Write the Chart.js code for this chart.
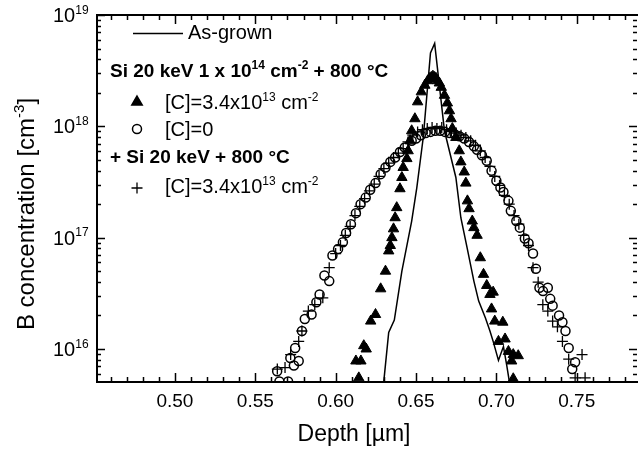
<!DOCTYPE html>
<html>
<head>
<meta charset="utf-8">
<script src="https://cdn.jsdelivr.net/npm/chart.js@4.4.1/dist/chart.umd.min.js"></script>
<style>
  html, body { margin: 0; padding: 0; background: #fff; }
  #wrap { width: 644px; height: 451px; }
</style>
</head>
<body>
<div id="wrap"><canvas id="profileChart"></canvas></div>
<script>
// depth in um, B concentration in cm^-3
const asGrownDepth = [0.6295, 0.6300, 0.6330, 0.6365, 0.6412, 0.6473, 0.6505, 0.6545, 0.6590, 0.6616,
  0.6677, 0.6748, 0.6779, 0.6818, 0.6860, 0.6890, 0.6932, 0.6960, 0.6980, 0.7013, 0.7044, 0.7064, 0.7090];
const asGrownConc = [4.2e15, 5.2e15, 1.41e16, 1.82e16, 5.0e16, 1.41e17, 2.82e17, 7.94e17, 4.57e18, 5.56e18,
  9.12e17, 3.47e17, 1.51e17, 8.1e16, 4.07e16, 2.69e16, 1.9e16, 1.45e16, 1.17e16, 7.9e15, 1.05e16, 7.2e15, 4.2e15];

const triDepth = [0.6126, 0.6144, 0.6157, 0.6175, 0.6190, 0.6218, 0.6248, 0.6280, 0.6310, 0.6330,
  0.6340, 0.6350, 0.6360, 0.6370, 0.6380, 0.6400, 0.6412, 0.6420, 0.6443, 0.6451,
  0.6463, 0.6473, 0.6493, 0.6510, 0.6533, 0.6555, 0.6573, 0.6585, 0.6595, 0.6605,
  0.6616, 0.6625, 0.6634, 0.6645, 0.6657, 0.6677, 0.6695, 0.6708, 0.6718, 0.6726,
  0.6748, 0.6769, 0.6779, 0.6800, 0.6810, 0.6820, 0.6830, 0.6850, 0.6860, 0.6880,
  0.6900, 0.6920, 0.6940, 0.6960, 0.6980, 0.6970, 0.6990, 0.7040, 0.7013, 0.7054,
  0.7075, 0.7105, 0.7136, 0.7095, 0.7105];
const triConc = [7.8e15, 5.5e15, 7.8e15, 1.07e16, 1.0e16, 1.78e16, 2.04e16, 3.47e16, 5.0e16, 7.6e16,
  8.5e16, 1.0e17, 1.2e17, 1.51e17, 1.86e17, 2.75e17, 3.47e17, 4.27e17, 5.13e17, 6.03e17,
  7.41e17, 9.12e17, 1.17e18, 1.66e18, 2.04e18, 2.34e18, 2.57e18, 2.69e18, 2.75e18, 2.82e18,
  2.75e18, 2.69e18, 2.57e18, 2.45e18, 2.24e18, 1.9e18, 1.62e18, 1.38e18, 1.17e18, 9.55e17,
  7.94e17, 6.03e17, 4.79e17, 3.89e17, 3.09e17, 2.14e17, 1.82e17, 1.41e17, 1.23e17, 1.05e17,
  6.6e16, 4.68e16, 3.72e16, 3.09e16, 3.24e16, 2.29e16, 1.78e16, 1.74e16, 1.17e16, 1.23e16,
  9.5e15, 8.9e15, 8.7e15, 7.8e15, 5.4e15];

const circDepth = [0.5636, 0.5650, 0.5704, 0.5718, 0.5740, 0.5748, 0.5770, 0.5790, 0.5808, 0.5850,
  0.5880, 0.5900, 0.5930, 0.5960, 0.5980, 0.6015, 0.6045, 0.6065, 0.6095, 0.6126,
  0.6155, 0.6187, 0.6215, 0.6248, 0.6280, 0.6310, 0.6340, 0.6370, 0.6400, 0.6430,
  0.6473, 0.6500, 0.6530, 0.6560, 0.6590, 0.6620, 0.6650, 0.6680, 0.6710, 0.6740,
  0.6770, 0.6800, 0.6830, 0.6860, 0.6880, 0.6910, 0.6940, 0.6970, 0.7000, 0.7025,
  0.7044, 0.7075, 0.7090, 0.7124, 0.7146, 0.7177, 0.7200, 0.7228, 0.7246, 0.7268,
  0.7290, 0.7320, 0.7335, 0.7350, 0.7390, 0.7411, 0.7430, 0.7450, 0.7472, 0.7490];
const circConc = [6.3e15, 5.1e15, 5.1e15, 8.3e15, 7.1e15, 1.02e16, 7.8e15, 1.45e16, 1.86e16, 2.04e16,
  2.63e16, 3.09e16, 4.57e16, 4.07e16, 6.9e16, 7.9e16, 9.1e16, 1.1e17, 1.32e17, 1.66e17,
  2.0e17, 2.29e17, 2.69e17, 3.09e17, 3.72e17, 4.27e17, 4.79e17, 5.25e17, 5.89e17, 6.46e17,
  7.41e17, 7.76e17, 8.32e17, 8.71e17, 8.91e17, 9.12e17, 9.12e17, 8.91e17, 8.71e17, 8.51e17,
  8.13e17, 7.76e17, 7.24e17, 6.61e17, 6.17e17, 5.5e17, 4.9e17, 3.98e17, 3.24e17, 2.82e17,
  2.57e17, 2.14e17, 1.74e17, 1.41e17, 1.23e17, 9.8e16, 8.9e16, 7.2e16, 5.25e16, 3.55e16,
  3.31e16, 3.55e16, 2.82e16, 2.45e16, 2.0e16, 1.74e16, 1.45e16, 1.02e16, 6.6e15, 7.6e15];

const plusDepth = [0.5637, 0.5685, 0.5720, 0.5770, 0.5790, 0.5830, 0.5870, 0.5920, 0.5960, 0.6000,
  0.6030, 0.6060, 0.6090, 0.6120, 0.6150, 0.6180, 0.6210, 0.6240, 0.6270, 0.6300,
  0.6330, 0.6360, 0.6390, 0.6420, 0.6450, 0.6480, 0.6510, 0.6540, 0.6570, 0.6600,
  0.6630, 0.6660, 0.6690, 0.6720, 0.6750, 0.6780, 0.6810, 0.6840, 0.6870, 0.6900,
  0.6930, 0.6960, 0.6990, 0.7020, 0.7050, 0.7080, 0.7110, 0.7140, 0.7170, 0.7200,
  0.7228, 0.7260, 0.7289, 0.7320, 0.7350, 0.7380, 0.7411, 0.7450, 0.7490, 0.7533, 0.7552];
const plusConc = [6.6e15, 6.8e15, 8.9e15, 1.17e16, 1.45e16, 2.19e16, 2.5e16, 2.88e16, 5.37e16, 7.2e16,
  8.5e16, 1.05e17, 1.26e17, 1.58e17, 1.91e17, 2.24e17, 2.63e17, 3.02e17, 3.55e17, 4.17e17,
  4.68e17, 5.25e17, 5.75e17, 6.31e17, 7.24e17, 8.32e17, 8.91e17, 9.33e17, 9.55e17, 9.77e17,
  9.55e17, 9.77e17, 9.33e17, 9.12e17, 8.71e17, 8.32e17, 7.94e17, 7.41e17, 6.76e17, 6.03e17,
  5.25e17, 4.37e17, 3.55e17, 2.95e17, 2.4e17, 2.0e17, 1.58e17, 1.32e17, 1.05e17, 8.5e16,
  5.37e16, 3.98e16, 2.5e16, 2.19e16, 1.78e16, 1.58e16, 1.17e16, 8.1e15, 5.5e15, 8.9e15, 5.5e15];

const xTickLabels = ['0.50', '0.55', '0.60', '0.65', '0.70', '0.75'];
const yTickExponents = [16, 17, 18, 19];

const FONT = '"Liberation Sans", Arial, Helvetica, sans-serif';

function pairs(xs, ys) {
    return xs.map((x, i) => ({ x: x, y: ys[i] }));
}

// text with superscript parts: parts = [[text, isSup], ...]
function richText(ctx, parts, x, y, size, bold) {
    let cx = x;
    parts.forEach(p => {
        const sup = p[1];
        ctx.font = (bold ? 'bold ' : '') + (sup ? Math.round(size * 0.62) : size) + 'px ' + FONT;
        ctx.fillText(p[0], cx, sup ? y - size * 0.42 : y);
        cx += ctx.measureText(p[0]).width;
    });
    return cx;
}

function richWidth(ctx, parts, size, bold) {
    let w = 0;
    parts.forEach(p => {
        ctx.font = (bold ? 'bold ' : '') + (p[1] ? Math.round(size * 0.62) : size) + 'px ' + FONT;
        w += ctx.measureText(p[0]).width;
    });
    return w;
}

const framePlugin = {
    id: 'frame',
    afterDraw(chart) {
        const ctx = chart.ctx;
        const a = chart.chartArea;
        const xs = chart.scales.x;
        const ys = chart.scales.y;
        ctx.save();
        ctx.fillStyle = '#000';
        ctx.strokeStyle = '#000';

        // frame (right edge lies just outside the picture)
        ctx.lineWidth = 2;
        ctx.beginPath();
        ctx.moveTo(a.right + 1, a.top);
        ctx.lineTo(a.left, a.top);
        ctx.lineTo(a.left, a.bottom);
        ctx.lineTo(a.right + 1, a.bottom);
        ctx.stroke();

        // x ticks, inward on top and bottom
        ctx.lineWidth = 1.5;
        for (let i = 46; i <= 78; i++) {
            const px = Math.round(xs.getPixelForValue(i / 100)) + 0.5;
            const len = (i % 5 === 0) ? 9 : 5;
            ctx.beginPath();
            ctx.moveTo(px, a.bottom);
            ctx.lineTo(px, a.bottom - len);
            ctx.moveTo(px, a.top);
            ctx.lineTo(px, a.top + len);
            ctx.stroke();
        }
        // y ticks, inward on left and right
        for (let e = 15; e <= 18; e++) {
            for (let m = 1; m <= 9; m++) {
                const v = m * Math.pow(10, e);
                if (v < ys.min || v > ys.max) continue;
                const py = Math.round(ys.getPixelForValue(v)) + 0.5;
                const len = m === 1 ? 8 : 4;
                ctx.beginPath();
                ctx.moveTo(a.left, py);
                ctx.lineTo(a.left + len, py);
                ctx.moveTo(a.right, py);
                ctx.lineTo(a.right - len, py);
                ctx.stroke();
            }
        }
        const pyTop = Math.round(ys.getPixelForValue(1e19)) + 0.5;
        ctx.beginPath();
        ctx.moveTo(a.left, pyTop); ctx.lineTo(a.left + 8, pyTop);
        ctx.stroke();

        // x tick labels
        ctx.textBaseline = 'alphabetic';
        ctx.textAlign = 'center';
        ctx.font = '19px ' + FONT;
        xTickLabels.forEach(t => {
            ctx.fillText(t, xs.getPixelForValue(parseFloat(t)), a.bottom + 25);
        });

        // y tick labels 10^n
        ctx.textAlign = 'left';
        yTickExponents.forEach(e => {
            const py = ys.getPixelForValue(Math.pow(10, e));
            richText(ctx, [['10', false], [String(e), true]], 53, py + 7, 20, false);
        });

        // axis titles
        ctx.font = '23px ' + FONT;
        ctx.textAlign = 'center';
        ctx.fillText('Depth [\u00b5m]', 354, 441);

        ctx.save();
        ctx.translate(34, 214);
        ctx.rotate(-Math.PI / 2);
        ctx.textAlign = 'left';
        const yTitle = [['B concentration [cm', false], ['-3', true], [']', false]];
        const w = richWidth(ctx, yTitle, 24, false);
        richText(ctx, yTitle, -w / 2, 0, 24, false);
        ctx.restore();

        // legend
        ctx.textAlign = 'left';
        ctx.lineWidth = 1.5;
        ctx.beginPath();
        ctx.moveTo(133, 33.5);
        ctx.lineTo(183, 33.5);
        ctx.stroke();
        ctx.font = '20px ' + FONT;
        ctx.fillText('As-grown', 188, 39);

        richText(ctx, [['Si 20 keV 1 x 10', false], ['14', true], [' cm', false], ['-2', true], [' + 800 \u00b0C', false]],
            110, 77, 19, true);

        Chart.helpers.drawPoint(ctx, { pointStyle: 'triangle', radius: 6, borderWidth: 1 }, 137, 102);
        richText(ctx, [['[C]=3.4x10', false], ['13', true], [' cm', false], ['-2', true]], 165, 109, 20, false);

        ctx.lineWidth = 1.5;
        ctx.fillStyle = 'rgba(0,0,0,0)';
        Chart.helpers.drawPoint(ctx, { pointStyle: 'circle', radius: 4.5, borderWidth: 1.5 }, 137, 129);
        ctx.fillStyle = '#000';
        ctx.font = '20px ' + FONT;
        ctx.fillText('[C]=0', 165, 136);

        richText(ctx, [['+ Si 20 keV + 800 \u00b0C', false]], 110, 163, 19, true);

        ctx.lineWidth = 1.3;
        Chart.helpers.drawPoint(ctx, { pointStyle: 'cross', radius: 5.5, borderWidth: 1.3 }, 137, 188);
        richText(ctx, [['[C]=3.4x10', false], ['13', true], [' cm', false], ['-2', true]], 165, 193, 20, false);

        ctx.restore();
    }
};

const ctx = document.getElementById('profileChart').getContext('2d');
new Chart(ctx, {
    type: 'scatter',
    data: {
        datasets: [{
            label: 'As-grown',
            data: pairs(asGrownDepth, asGrownConc),
            showLine: true,
            borderColor: '#000',
            borderWidth: 1.5,
            pointRadius: 0,
            tension: 0
        }, {
            label: '[C]=3.4x10^13 cm^-2',
            data: pairs(triDepth, triConc),
            pointStyle: 'triangle',
            pointRadius: 6,
            backgroundColor: '#000',
            borderColor: '#000',
            borderWidth: 1
        }, {
            label: '[C]=0',
            data: pairs(circDepth, circConc),
            pointStyle: 'circle',
            pointRadius: 4.5,
            backgroundColor: 'rgba(0,0,0,0)',
            borderColor: '#000',
            borderWidth: 1.5
        }, {
            label: '+ Si [C]=3.4x10^13 cm^-2',
            data: pairs(plusDepth, plusConc),
            pointStyle: 'cross',
            pointRadius: 5.5,
            borderColor: '#000',
            borderWidth: 1.3
        }]
    },
    options: {
        responsive: true,
        maintainAspectRatio: false,
        animation: false,
        events: [],
        layout: { padding: { left: 97, right: 0, top: 15, bottom: 69 } },
        plugins: {
            legend: { display: false },
            tooltip: { enabled: false }
        },
        scales: {
            x: { type: 'linear', min: 0.4515, max: 0.7875, display: false },
            y: { type: 'logarithmic', min: 5.05e15, max: 1e19, display: false }
        }
    },
    plugins: [framePlugin]
});
</script>
</body>
</html>
